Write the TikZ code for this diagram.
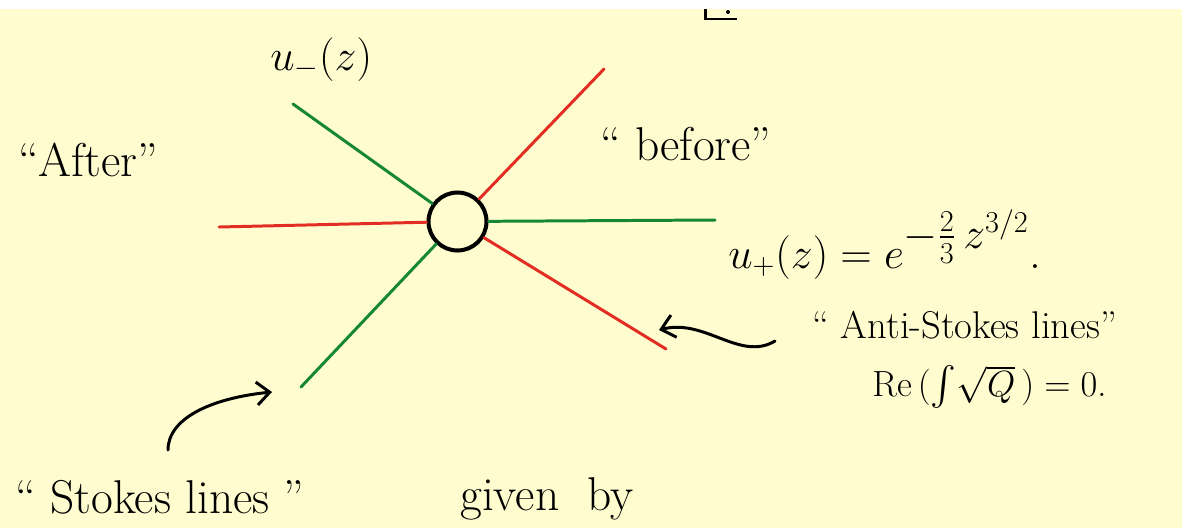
\documentclass[tikz,border=0pt]{standalone}
\usepackage{amsmath, amssymb}
\usepackage{tikz}
\usetikzlibrary{
  arrows.meta,
  positioning,
  calc
}
\definecolor{notepaper}{RGB}{255,253,208}
\definecolor{stokesgreen}{RGB}{22,135,55}
\definecolor{antired}{RGB}{226,45,35}
\tikzset{
  stokesline/.style={draw=stokesgreen, line width=1.7pt, line cap=round},
  antiline/.style={draw=antired, line width=1.7pt, line cap=round},
  turnpoint/.style={
    circle, draw, line width=2.3pt,
    minimum size=1.16cm, inner sep=0pt
  },
  hand/.style={font=\fontsize{27}{32}\selectfont, inner sep=0pt},
  handsmall/.style={font=\fontsize{22}{26}\selectfont, inner sep=0pt},
  handarrow/.style={-{Straight Barb[length=2.6mm, width=4.6mm]}, line width=1.7pt, line cap=round}
}

\begin{document}
\begin{tikzpicture}[x=0.02cm, y=-0.02cm]

% Paper
\useasboundingbox (0,0) rectangle (1182,528);
\fill[notepaper] (0,0) rectangle (1182,528);
\fill[white] (0,0) rectangle (1182,9);
\draw[line width=1.7pt] (705,9) -- (705,19) -- (737,19);
\fill (728,12) circle (2);

% Turning point
\node[turnpoint] (tp) at (457.5,221.5) {};

% Ray ends
\coordinate (sUL) at (293,104);
\coordinate (sR)  at (715,220);
\coordinate (sLL) at (301,387);
\coordinate (aUR) at (604,69);
\coordinate (aL)  at (219,227);
\coordinate (aLR) at (666,349);

% Stokes lines (green)
\draw[stokesline] (tp) -- (sUL);
\draw[stokesline] (tp) -- (sR);
\draw[stokesline] (tp) -- (sLL);

% Anti-Stokes lines (red)
\draw[antiline] (tp) -- (aUR);
\draw[antiline] (tp) -- (aL);
\draw[antiline] (tp) -- (aLR);

% Labels
\node[hand, anchor=base west] (uminus) at (270,70) {$u_-(z)$};
\node[hand, anchor=base west] (after) at (18,176) {``After''};
\node[hand, anchor=base west] (before) at (600,160) {`` before''};
\node[hand, anchor=base west] (uplus) at (728,268) {$u_+(z) = e^{\textstyle -\frac{2}{3}\,z^{3/2}}$.};
\node[handsmall, anchor=base west] (antilbl) at (812,338) {`` Anti-Stokes lines''};
\node[handsmall, anchor=base west] (recond) at (872,396) {$\mathrm{Re}\,(\int\!\sqrt{Q}\,) = 0$.};
\node[hand, anchor=base west] (stokeslbl) at (15,513) {`` Stokes lines ''};
\node[hand, anchor=base west] (givenby) at (460,510) {given~~by};

% Pointers
\coordinate (aTail) at (775,341);
\coordinate (aHead) at (659,330);
\coordinate (sTail) at (168,450);
\coordinate (sHead) at (272,392);
\draw[handarrow] (aTail) .. controls (740,362) and (705,318) .. (aHead);
\draw[handarrow] (sTail) .. controls (168,418) and (212,398) .. (sHead);

\end{tikzpicture}
\end{document}
